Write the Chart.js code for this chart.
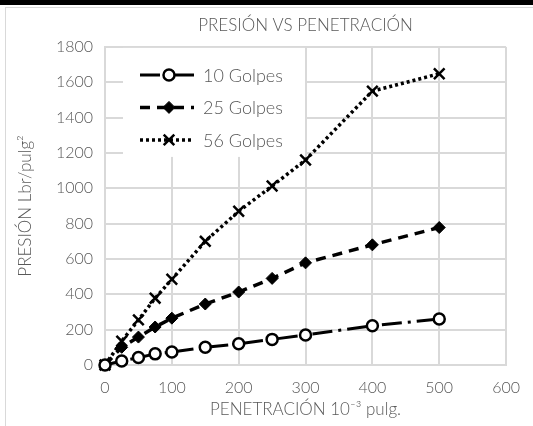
<!DOCTYPE html>
<html>
<head>
<meta charset="utf-8">
<script src="https://cdn.jsdelivr.net/npm/chart.js@4"></script>
<style>
  html, body { margin: 0; padding: 0; background: #fff; }
  #wrap { position: relative; width: 533px; height: 426px; overflow: hidden; }
  #topbar { position: absolute; left: 0; top: 0; width: 533px; height: 5px; background: #000; }
  #frame { position: absolute; left: 5px; top: 7px; width: 560px; height: 440px; border: 1px solid #d9d9d9; }
  #c { position: absolute; left: 0; top: 0; }
</style>
</head>
<body>
<div id="wrap">
  <div id="topbar"></div>
  <div id="frame"></div>
  <canvas id="c" width="533" height="426"></canvas>
</div>
<script>
// penetracion (10^-3 pulg) y presion (Lbr/pulg2) por numero de golpes
var penetracion = [0, 25, 50, 75, 100, 150, 200, 250, 300, 400, 500];
var golpes10 = [0, 23, 42, 63, 73, 100, 120, 145, 170, 222, 260];
var golpes25 = [0, 100, 158, 215, 265, 345, 413, 490, 578, 680, 778];
var golpes56 = [0, 135, 255, 378, 485, 700, 870, 1013, 1160, 1550, 1648];
var nombres = ['10 Golpes', '25 Golpes', '56 Golpes'];

var gris = '#595959';
var fuente = 'Lato, "DejaVu Sans", sans-serif';

function puntos(ys) {
    var out = [];
    for (var i = 0; i < penetracion.length; i++) {
        out.push({x: penetracion[i], y: ys[i]});
    }
    return out;
}

// sin separador de miles, como en el original
function sinComa(v) {
    return String(v);
}

// dibuja un marcador igual al de la serie (para la leyenda)
function marcador(ctx, ds, x, y) {
    var r = ds.pointRadius;
    ctx.save();
    ctx.setLineDash([]);
    ctx.lineWidth = ds.pointBorderWidth;
    ctx.strokeStyle = ds.pointBorderColor;
    ctx.fillStyle = ds.pointBackgroundColor;
    ctx.beginPath();
    if (ds.pointStyle === 'circle') {
        ctx.arc(x, y, r, 0, Math.PI * 2);
        ctx.fill();
        ctx.stroke();
    } else if (ds.pointStyle === 'rectRot') {
        ctx.moveTo(x, y - r);
        ctx.lineTo(x + r, y);
        ctx.lineTo(x, y + r);
        ctx.lineTo(x - r, y);
        ctx.closePath();
        ctx.fill();
        ctx.stroke();
    } else {
        var d = r * Math.SQRT1_2;
        ctx.moveTo(x - d, y - d);
        ctx.lineTo(x + d, y + d);
        ctx.moveTo(x + d, y - d);
        ctx.lineTo(x - d, y + d);
        ctx.stroke();
    }
    ctx.restore();
}

// leyenda dentro del area del grafico, con fondo blanco sobre la cuadricula
var leyenda = {
    id: 'leyenda',
    beforeDatasetsDraw: function(chart) {
        var ctx = chart.ctx;
        var a = chart.chartArea;
        ctx.save();
        ctx.fillStyle = '#fff';
        ctx.fillRect(a.left + 18, a.top + 1, 182, 109);
        ctx.restore();
    },
    afterDatasetsDraw: function(chart) {
        var ctx = chart.ctx;
        var a = chart.chartArea;
        chart.data.datasets.forEach(function(ds, i) {
            var y = a.top + 28 + i * 32.5;
            var x0 = a.left + 35;
            ctx.save();
            ctx.strokeStyle = ds.borderColor;
            ctx.lineWidth = ds.borderWidth;
            ctx.setLineDash(ds.borderDash);
            ctx.beginPath();
            ctx.moveTo(x0, y);
            ctx.lineTo(x0 + 54, y);
            ctx.stroke();
            ctx.restore();
            marcador(ctx, ds, x0 + 29, y);
            ctx.save();
            ctx.fillStyle = gris;
            ctx.font = '300 18px ' + fuente;
            ctx.textBaseline = 'middle';
            ctx.fillText(ds.label, x0 + 63, y + 1);
            ctx.restore();
        });
    }
};

var ctx = document.getElementById('c').getContext('2d');
var chart = new Chart(ctx, {
    type: 'line',
    data: {
        datasets: [{
            label: nombres[0],
            data: puntos(golpes10),
            borderColor: '#000',
            borderWidth: 3,
            borderDash: [20, 6, 3, 6],
            pointStyle: 'circle',
            pointRadius: 5.5,
            pointBorderWidth: 2.5,
            pointBorderColor: '#000',
            pointBackgroundColor: '#fff',
            clip: false,
            fill: false
        }, {
            label: nombres[1],
            data: puntos(golpes25),
            borderColor: '#000',
            borderWidth: 3.5,
            borderDash: [10, 7],
            pointStyle: 'rectRot',
            pointRadius: 6,
            pointBorderWidth: 1,
            pointBorderColor: '#000',
            pointBackgroundColor: '#000',
            clip: false,
            fill: false
        }, {
            label: nombres[2],
            data: puntos(golpes56),
            borderColor: '#000',
            borderWidth: 3.5,
            borderDash: [3, 3],
            pointStyle: 'crossRot',
            pointRadius: 7.5,
            pointBorderWidth: 2.5,
            pointBorderColor: '#000',
            pointBackgroundColor: '#000',
            clip: false,
            fill: false
        }]
    },
    options: {
        responsive: false,
        animation: false,
        layout: { padding: { left: 0, top: 0, right: 25, bottom: 0 } },
        plugins: {
            legend: { display: false },
            tooltip: { enabled: false },
            title: {
                display: true,
                text: 'PRESIÓN VS PENETRACIÓN',
                fullSize: false,
                color: gris,
                font: { family: fuente, size: 17, weight: 300 },
                padding: { top: 15, bottom: 11.5 }
            }
        },
        scales: {
            x: {
                type: 'linear',
                min: 0,
                max: 600,
                ticks: { stepSize: 100, color: gris, padding: 13, callback: sinComa, font: { family: fuente, size: 16, weight: 300 } },
                grid: { color: '#d9d9d9', lineWidth: 2, drawTicks: false },
                border: { color: '#d9d9d9', width: 2 },
                title: {
                    display: true,
                    text: 'PENETRACIÓN 10⁻³ pulg.',
                    color: gris,
                    font: { family: fuente, size: 17, weight: 300 },
                    padding: { top: 0, bottom: 6 }
                },
                afterFit: function(s) { s.height = 61; }
            },
            y: {
                min: 0,
                max: 1800,
                ticks: { stepSize: 200, color: gris, padding: 12, callback: sinComa, font: { family: fuente, size: 16, weight: 300 } },
                grid: { color: '#d9d9d9', lineWidth: 2, drawTicks: false },
                border: { color: '#d9d9d9', width: 2 },
                title: {
                    display: true,
                    text: 'PRESIÓN Lbr/pulg²',
                    color: gris,
                    font: { family: fuente, size: 17, weight: 300 },
                    padding: { top: 15, bottom: 0 }
                },
                afterFit: function(s) { s.width = 105; }
            }
        }
    },
    plugins: [leyenda]
});
</script>
</body>
</html>
